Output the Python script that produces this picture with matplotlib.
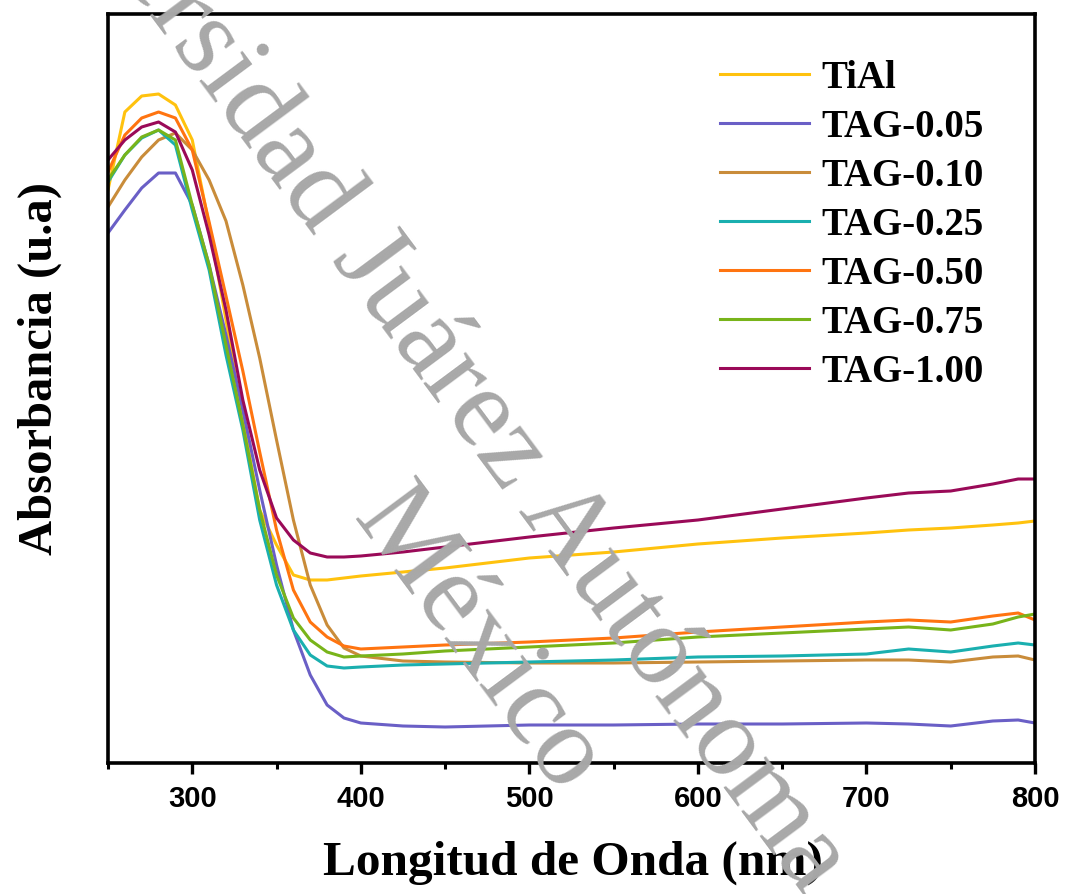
import matplotlib
matplotlib.use("Agg")
import matplotlib.pyplot as plt

# wavelength grid (nm) shared by all spectra
wavelength = [250, 260, 270, 280, 290, 300, 310, 320, 330, 340, 350, 360, 370, 380,
              390, 400, 425, 450, 500, 550, 600, 650, 700, 725, 750, 775, 790, 800]

# absorbance (arbitrary units)
tial = [5.73, 6.51, 6.67, 6.69, 6.58, 6.23, 5.38, 4.43, 3.43, 2.53, 2.18, 1.88, 1.83, 1.83,
        1.85, 1.87, 1.91, 1.95, 2.05, 2.11, 2.19, 2.25, 2.30, 2.33, 2.35, 2.38, 2.40, 2.42]
tag_005 = [5.30, 5.53, 5.75, 5.90, 5.90, 5.58, 4.98, 4.28, 3.53, 2.73, 1.98, 1.33, 0.88, 0.58,
           0.45, 0.40, 0.37, 0.36, 0.38, 0.38, 0.39, 0.39, 0.40, 0.39, 0.37, 0.42, 0.43, 0.40]
tag_010 = [5.56, 5.83, 6.06, 6.23, 6.30, 6.13, 5.83, 5.42, 4.78, 4.05, 3.23, 2.43, 1.78, 1.38,
           1.15, 1.07, 1.02, 1.01, 1.00, 1.00, 1.01, 1.02, 1.03, 1.03, 1.01, 1.06, 1.07, 1.03]
tag_025 = [5.81, 6.08, 6.25, 6.33, 6.18, 5.53, 4.93, 4.08, 3.33, 2.43, 1.78, 1.33, 1.08, 0.97,
           0.95, 0.96, 0.98, 0.99, 1.01, 1.03, 1.06, 1.07, 1.09, 1.14, 1.11, 1.17, 1.20, 1.18]
tag_050 = [5.91, 6.28, 6.45, 6.51, 6.45, 6.13, 5.41, 4.67, 3.92, 3.11, 2.33, 1.73, 1.41, 1.26,
           1.17, 1.14, 1.16, 1.18, 1.21, 1.25, 1.31, 1.36, 1.41, 1.43, 1.41, 1.47, 1.50, 1.43]
tag_075 = [5.83, 6.08, 6.26, 6.33, 6.23, 5.58, 4.98, 4.18, 3.38, 2.53, 1.88, 1.45, 1.23, 1.11,
           1.06, 1.07, 1.09, 1.12, 1.16, 1.20, 1.26, 1.30, 1.34, 1.36, 1.33, 1.39, 1.46, 1.49]
tag_100 = [6.03, 6.23, 6.36, 6.41, 6.31, 5.93, 5.28, 4.53, 3.63, 2.93, 2.45, 2.23, 2.10, 2.06,
           2.06, 2.07, 2.11, 2.16, 2.26, 2.35, 2.43, 2.54, 2.65, 2.70, 2.72, 2.79, 2.84, 2.84]

labels = ["TiAl", "TAG-0.05", "TAG-0.10", "TAG-0.25", "TAG-0.50", "TAG-0.75", "TAG-1.00"]
series = [tial, tag_005, tag_010, tag_025, tag_050, tag_075, tag_100]
colors = ["#ffc20e", "#6a5fc6", "#c98c3a", "#1aafaf", "#ff7410", "#78b41a", "#9a0a58"]

serif = ["Liberation Serif", "DejaVu Serif"]
narrow = ["Liberation Sans Narrow", "Liberation Sans", "DejaVu Sans"]

fig = plt.figure(figsize=(10.65, 8.94), dpi=100)
ax = fig.add_axes([108 / 1065, 1 - 763 / 894, 927 / 1065, 749 / 894])

for y, lab, c in zip(series, labels, colors):
    ax.plot(wavelength, y, color=c, lw=2.2, label=lab, solid_joinstyle="round")

ax.set_xlim(250, 800)
ax.set_ylim(0, 7.49)
ax.set_xticks([300, 400, 500, 600, 700, 800])
ax.set_xticks([250, 350, 450, 550, 650, 750], minor=True)
ax.set_yticks([])
for s in ax.spines.values():
    s.set_linewidth(2.6)
ax.tick_params(axis="x", which="major", direction="out", length=8, width=2.4, pad=8)
ax.tick_params(axis="x", which="minor", direction="out", length=4.5, width=2.2)
for t in ax.get_xticklabels():
    t.set_family(narrow)
    t.set_fontweight("bold")
    t.set_fontsize(21)

ax.set_xlabel("Longitud de Onda (nm)", family=serif, fontweight="bold", fontsize=35.5)
ax.xaxis.set_label_coords(0.502, -0.104)
ax.set_ylabel("Absorbancia (u.a)", family=serif, fontweight="bold", fontsize=35)
ax.yaxis.set_label_coords(-0.05, 0.527)

leg = ax.legend(loc="upper left", bbox_to_anchor=(0.660, 0.939), frameon=False,
                borderaxespad=0, borderpad=0, handlelength=2.3, handletextpad=0.3,
                labelspacing=0.31, prop={"family": serif, "weight": "bold", "size": 28})

# watermark
fig.text(574 / 1065, 1 - 541 / 894, "Universidad Juárez Autónoma de Tabasco",
         family=serif, fontsize=82, color="#a8a8a8", rotation=-53.4,
         rotation_mode="anchor", ha="center", va="center", zorder=10)
fig.text(478 / 1065, 1 - 642 / 894, "México",
         family=serif, fontsize=82, color="#a8a8a8", rotation=-53.4,
         rotation_mode="anchor", ha="center", va="center", zorder=10)

fig.savefig("out.png", dpi=100)
